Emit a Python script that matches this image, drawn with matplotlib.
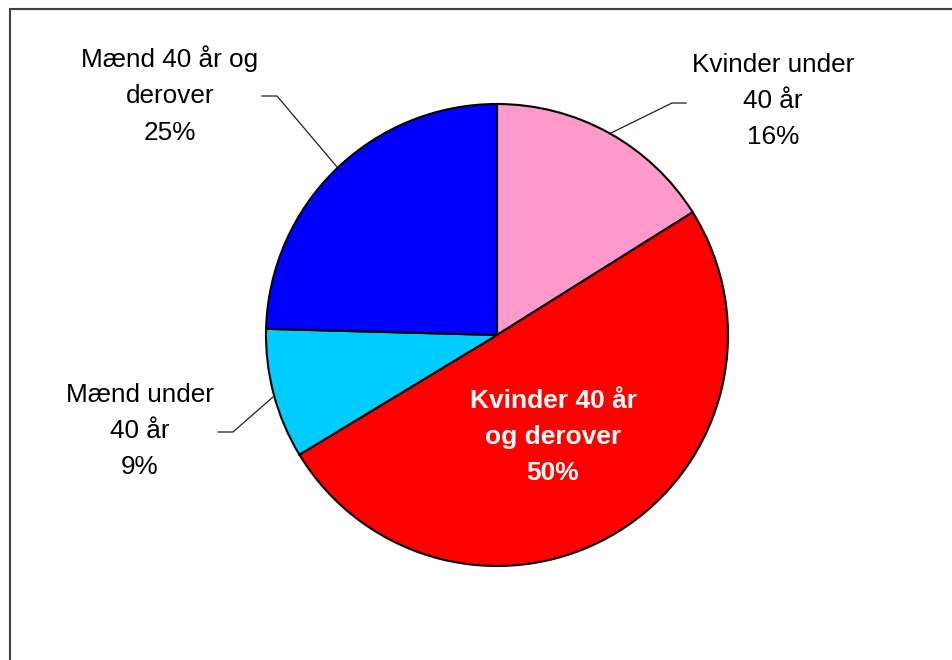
import matplotlib.pyplot as plt
from matplotlib.patches import Rectangle

plt.rcParams['font.family'] = ['Liberation Sans', 'DejaVu Sans']

# data, clockwise from 12 o'clock
labels = ['Kvinder under\n40 år', 'Kvinder 40 år\nog derover', 'Mænd under\n40 år', 'Mænd 40 år og\nderover']
values = [16.1, 50.3, 9.1, 24.6]
colors = ['#FF99CC', '#FF0000', '#00CCFF', '#0000FF']

W, H = 952, 660
cx, cy, R = 497, 335, 231   # pie centre / radius in pixels


def px(x, y):
    # pixel -> data coords (pie radius = 1)
    return (x - cx) / R, (cy - y) / R


fig = plt.figure(figsize=(W / 100, H / 100), dpi=100)
ax = fig.add_axes([0, 0, 1, 1])

ax.pie(values, colors=colors, startangle=90, counterclock=False, radius=1,
       wedgeprops=dict(edgecolor='black', linewidth=1.5))
ax.set_aspect('auto')
ax.set_xlim(px(0, 0)[0], px(W, 0)[0])
ax.set_ylim(px(0, H)[1], px(0, 0)[1])
ax.axis('off')

total = sum(values)
pct = [f"{v / total * 100:.0f}%" for v in values]

# label positions (pixel centres) and leader lines
txt_pos = [(773, 101), (553, 437), (140, 431), (170, 95)]
leaders = [
    [(611, 133), (672, 103), (686, 103)],
    None,
    [(273, 397), (233, 432), (218, 432)],
    [(337, 167), (277, 96), (262, 96)],
]

for i, lab in enumerate(labels):
    x, y = px(*txt_pos[i])
    if i == 1:
        ax.text(x, y, lab + '\n' + pct[i], ha='center', va='center', fontsize=19,
                color='white', fontweight='bold', linespacing=1.62)
    else:
        ax.text(x, y, lab + '\n' + pct[i], ha='center', va='center', fontsize=18.8,
                color='black', linespacing=1.65)
    if leaders[i]:
        pts = [px(a, b) for a, b in leaders[i]]
        ax.plot([p[0] for p in pts], [p[1] for p in pts], color='#202020', lw=0.9)

# chart area border (runs off the right and bottom)
fig.patches.append(Rectangle((10 / W, -0.1), 1.0, 1 - 9 / H + 0.1, transform=fig.transFigure,
                             fill=False, edgecolor='#404040', lw=1.5))

fig.savefig('out.png', dpi=100)
